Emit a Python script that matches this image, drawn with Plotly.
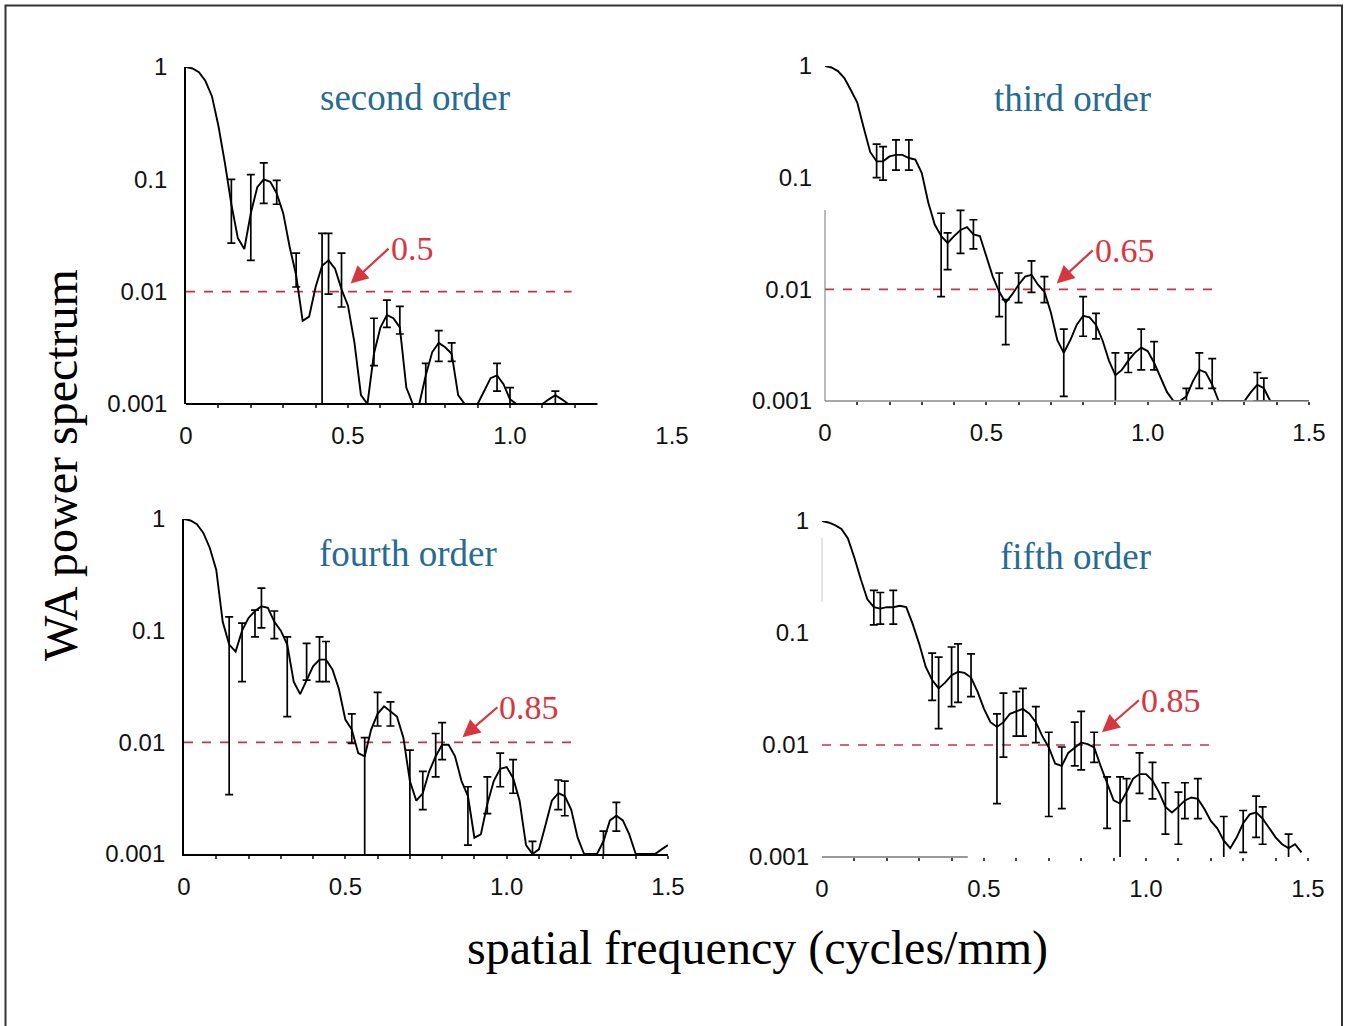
import math
import plotly.graph_objects as go

# ---------------- data ----------------
freq = [0.00, 0.02, 0.04, 0.06, 0.08, 0.10, 0.12, 0.14, 0.16, 0.18,
        0.20, 0.22, 0.24, 0.26, 0.28, 0.30, 0.32, 0.34, 0.36, 0.38,
        0.40, 0.42, 0.44, 0.46, 0.48, 0.50, 0.52, 0.54, 0.56, 0.58,
        0.60, 0.62, 0.64, 0.66, 0.68, 0.70, 0.72, 0.74, 0.76, 0.78,
        0.80, 0.82, 0.84, 0.86, 0.88, 0.90, 0.92, 0.94, 0.96, 0.98,
        1.00, 1.02, 1.04, 1.06, 1.08, 1.10, 1.12, 1.14, 1.16, 1.18,
        1.20, 1.22, 1.24, 1.26, 1.28, 1.30, 1.32, 1.34, 1.36, 1.38,
        1.40, 1.42, 1.44, 1.46, 1.48, 1.50]

second_order = [1.0, 0.97, 0.9, 0.75, 0.55, 0.30, 0.14, 0.06, 0.03, 0.024,
                0.05, 0.085, 0.1, 0.095, 0.075, 0.05, 0.025, 0.014, 0.0055, 0.006,
                0.011, 0.017, 0.019, 0.016, 0.0105, 0.0075, 0.0035, 0.0012, 0.001, 0.0028,
                0.0048, 0.0062, 0.0058, 0.0048, 0.0014, 0.001, 0.001, 0.0018, 0.0029, 0.0035,
                0.0032, 0.0028, 0.0012, 0.001, 0.001, 0.001, 0.0013, 0.0017, 0.0018, 0.0015,
                0.0011, 0.001, 0.001, 0.001, 0.001, 0.001, 0.0011, 0.0012, 0.0011, 0.001,
                0.001]
third_order = [1.0, 0.97, 0.9, 0.78, 0.61, 0.47, 0.28, 0.17, 0.14, 0.14,
               0.155, 0.16, 0.16, 0.15, 0.145, 0.11, 0.06, 0.038, 0.03, 0.026,
               0.03, 0.034, 0.036, 0.031, 0.03, 0.02, 0.013, 0.0095, 0.0076, 0.009,
               0.011, 0.013, 0.0135, 0.011, 0.0095, 0.0062, 0.0035, 0.0027, 0.0035, 0.0048,
               0.0058, 0.0056, 0.0048, 0.0035, 0.0023, 0.0017, 0.0019, 0.0023, 0.0027, 0.003,
               0.0028, 0.0022, 0.0016, 0.0012, 0.001, 0.001, 0.0011, 0.0015, 0.0019, 0.0018,
               0.0014, 0.001, 0.001, 0.001, 0.001, 0.001, 0.0012, 0.0014, 0.0013, 0.001,
               0.001, 0.001, 0.001, 0.001, 0.001, 0.001]
fourth_order = [1.0, 0.97, 0.9, 0.75, 0.55, 0.35, 0.12, 0.075, 0.065, 0.1,
                0.13, 0.15, 0.165, 0.16, 0.12, 0.1, 0.075, 0.035, 0.027, 0.036,
                0.048, 0.055, 0.055, 0.045, 0.03, 0.016, 0.013, 0.008, 0.0075, 0.013,
                0.018, 0.021, 0.019, 0.017, 0.011, 0.0045, 0.003, 0.0035, 0.0055, 0.0075,
                0.0095, 0.0095, 0.0075, 0.0045, 0.0033, 0.0014, 0.0015, 0.0028, 0.0045, 0.0058,
                0.006, 0.0048, 0.003, 0.0012, 0.001, 0.0011, 0.0018, 0.003, 0.0035, 0.0033,
                0.0025, 0.0014, 0.001, 0.001, 0.001, 0.0013, 0.002, 0.0022, 0.002, 0.0015,
                0.001, 0.001, 0.001, 0.001, 0.0011, 0.0012]
fifth_order = [1.0, 0.97, 0.92, 0.85, 0.7, 0.47, 0.3, 0.2, 0.17, 0.165,
               0.17, 0.17, 0.175, 0.17, 0.12, 0.08, 0.05, 0.038, 0.032, 0.036,
               0.042, 0.045, 0.044, 0.04, 0.03, 0.021, 0.016, 0.0145, 0.016, 0.019,
               0.02, 0.021, 0.019, 0.016, 0.012, 0.0095, 0.0068, 0.0065, 0.0085, 0.0095,
               0.0105, 0.0102, 0.0095, 0.0065, 0.0045, 0.0032, 0.003, 0.0038, 0.005, 0.0055,
               0.0055, 0.0048, 0.0038, 0.0028, 0.0025, 0.0028, 0.0032, 0.0034, 0.0033, 0.0027,
               0.0021, 0.0018, 0.0014, 0.0012, 0.0015, 0.002, 0.0024, 0.0025, 0.0022, 0.0018,
               0.0015, 0.0013, 0.0012, 0.0013, 0.0011]

# error bars: position, upper value, lower value
second_err_x = [0.14, 0.20, 0.24, 0.28, 0.34, 0.42, 0.44, 0.48, 0.58, 0.62, 0.66, 0.74, 0.78, 0.82, 0.96, 1.00, 1.14]
second_err_hi = [0.10, 0.11, 0.14, 0.098, 0.022, 0.033, 0.033, 0.022, 0.0058, 0.0084, 0.0074, 0.0023, 0.0045, 0.0035, 0.0023, 0.0014, 0.0013]
second_err_lo = [0.027, 0.019, 0.061, 0.060, 0.011, 0.0005, 0.0095, 0.0073, 0.0022, 0.0048, 0.0042, 0.0005, 0.0024, 0.0024, 0.0013, 0.0009, 0.0009]

third_err_x = [0.16, 0.18, 0.22, 0.26, 0.36, 0.38, 0.42, 0.46, 0.54, 0.56, 0.60, 0.64, 0.68, 0.74, 0.80, 0.84, 0.90, 0.94, 0.98, 1.02, 1.12, 1.16, 1.20, 1.34, 1.36]
third_err_hi = [0.2, 0.19, 0.218, 0.218, 0.048, 0.032, 0.051, 0.042, 0.014, 0.0081, 0.014, 0.018, 0.013, 0.0044, 0.0086, 0.0061, 0.0027, 0.0027, 0.0044, 0.0034, 0.0013, 0.0027, 0.0024, 0.0018, 0.0016]
third_err_lo = [0.1, 0.095, 0.117, 0.117, 0.0086, 0.015, 0.021, 0.023, 0.0057, 0.0032, 0.0076, 0.0094, 0.0076, 0.0011, 0.0038, 0.0036, 0.0005, 0.0018, 0.0019, 0.0019, 0.0008, 0.0013, 0.0013, 0.001, 0.001]

fourth_err_x = [0.14, 0.18, 0.22, 0.24, 0.28, 0.32, 0.38, 0.42, 0.44, 0.52, 0.56, 0.60, 0.64, 0.70, 0.74, 0.78, 0.80, 0.88, 0.94, 0.98, 1.02, 1.08, 1.16, 1.18, 1.30, 1.34]
fourth_err_hi = [0.133, 0.117, 0.153, 0.24, 0.15, 0.088, 0.077, 0.088, 0.08, 0.018, 0.011, 0.028, 0.023, 0.0085, 0.0055, 0.012, 0.015, 0.004, 0.0049, 0.008, 0.007, 0.0013, 0.0046, 0.0045, 0.0016, 0.0029]
fourth_err_lo = [0.0034, 0.035, 0.088, 0.106, 0.085, 0.017, 0.036, 0.035, 0.035, 0.0098, 0.0006, 0.014, 0.014, 0.0009, 0.0025, 0.0049, 0.007, 0.0012, 0.0023, 0.004, 0.0035, 0.0008, 0.0025, 0.0022, 0.0009, 0.0016]

fifth_err_x = [0.16, 0.18, 0.22, 0.34, 0.36, 0.40, 0.42, 0.46, 0.54, 0.56, 0.60, 0.62, 0.66, 0.70, 0.74, 0.78, 0.80, 0.84, 0.88, 0.92, 0.94, 0.98, 1.02, 1.06, 1.10, 1.12, 1.16, 1.24, 1.30, 1.34, 1.36, 1.44]
fifth_err_hi = [0.24, 0.23, 0.24, 0.066, 0.061, 0.075, 0.08, 0.065, 0.019, 0.029, 0.03, 0.032, 0.022, 0.013, 0.0096, 0.016, 0.02, 0.013, 0.0052, 0.0052, 0.005, 0.0085, 0.007, 0.0046, 0.0038, 0.0046, 0.005, 0.0023, 0.0026, 0.0035, 0.0028, 0.0016]
fifth_err_lo = [0.118, 0.12, 0.12, 0.025, 0.014, 0.022, 0.024, 0.027, 0.003, 0.0078, 0.012, 0.012, 0.0105, 0.0023, 0.0027, 0.0065, 0.006, 0.007, 0.0018, 0.0009, 0.0021, 0.0037, 0.0033, 0.0016, 0.0013, 0.0022, 0.0022, 0.0008, 0.0011, 0.0015, 0.0013, 0.0009]

panel_titles = ["second order", "third order", "fourth order", "fifth order"]
threshold = 0.01
threshold_end = [1.19, 1.20, 1.20, 1.21]
cutoff_labels = ["0.5", "0.65", "0.85", "0.85"]
cutoff_x = [0.508, 0.718, 0.863, 0.864]
cutoff_y = [0.0118, 0.0113, 0.0111, 0.013]

y_tickvals = [0.001, 0.01, 0.1, 1]
y_ticktext = ["0.001", "0.01", "0.1", "1"]
x_tickvals = [0, 0.5, 1.0, 1.5]
x_ticktext = ["0", "0.5", "1.0", "1.5"]
x_minor_ticks = [0.1, 0.2, 0.3, 0.4, 0.5, 0.6, 0.7, 0.8, 0.9, 1.0, 1.1, 1.2, 1.3, 1.4, 1.5]
x_axis_end = [1.27, 1.5, 1.5, 1.5]

# ---------------- layout helpers ----------------
W, H = 1346, 1026
# pixel boxes: (x_left, x_right, y_top(=1), y_bottom(=0.001))
boxes = [(186, 672, 67, 404), (825, 1309, 66, 401), (184, 668, 519, 854), (822, 1308, 521, 857)]
title_pos = [(415, 97), (1072, 99), (408, 553), (1075, 556)]
arrow_off = [(38, -35), (36, -33), (35, -30), (37, -32)]

RED = "#d8363e"
DASH = "#c2334d"
BLUE = "#266b92"
SANS = "Liberation Sans, Arial, sans-serif"
SERIF = "Liberation Serif, Times New Roman, serif"

series = [second_order, third_order, fourth_order, fifth_order]
errs = [(second_err_x, second_err_hi, second_err_lo),
        (third_err_x, third_err_hi, third_err_lo),
        (fourth_err_x, fourth_err_hi, fourth_err_lo),
        (fifth_err_x, fifth_err_hi, fifth_err_lo)]

fig = go.Figure()
layout = dict(width=W, height=H, autosize=False, margin=dict(l=0, r=0, t=0, b=0, pad=0),
              paper_bgcolor="white", plot_bgcolor="white", showlegend=False)
annotations = []
shapes = []

for k in range(4):
    n = "" if k == 0 else str(k + 1)
    xa, ya = "x" + n, "y" + n
    xl, xr, yt, yb = boxes[k]
    ys = series[k]
    xs = freq[:len(ys)]
    # threshold dashed line
    fig.add_trace(go.Scatter(x=[0, threshold_end[k]], y=[threshold, threshold], mode="lines",
                             line=dict(color=DASH, width=1.6, dash="dash"),
                             xaxis=xa, yaxis=ya, hoverinfo="skip"))
    # curve
    fig.add_trace(go.Scatter(x=xs, y=ys, mode="lines", line=dict(color="black", width=1.9),
                             xaxis=xa, yaxis=ya, hoverinfo="skip"))
    # error bars
    ex, ehi, elo = errs[k]
    ecy = [ys[int(round(v / 0.02))] for v in ex]
    fig.add_trace(go.Scatter(x=ex, y=ecy, mode="markers",
                             marker=dict(size=1, color="rgba(0,0,0,0)"),
                             error_y=dict(type="data", symmetric=False,
                                          array=[h - c for h, c in zip(ehi, ecy)],
                                          arrayminus=[c - l for l, c in zip(elo, ecy)],
                                          color="black", thickness=1.7, width=4),
                             xaxis=xa, yaxis=ya, hoverinfo="skip"))

    yline = k in (0, 2)
    xline = k == 2
    minor_vals = [v for v in x_minor_ticks if v <= x_axis_end[k] + 1e-9]
    layout["xaxis" + n] = dict(domain=[xl / W, xr / W], range=[0, 1.5], anchor=ya,
                               tickvals=x_tickvals, ticktext=x_ticktext,
                               showgrid=False, zeroline=False, automargin=False,
                               showline=xline, linecolor="black", linewidth=1.8,
                               ticks="outside", ticklen=2, tickwidth=0, tickcolor="rgba(0,0,0,0)",
                               minor=dict(tickvals=minor_vals, ticks="outside", ticklen=3,
                                          tickwidth=2, tickcolor="#444", showgrid=False),
                               ticklabelstandoff=8,
                               tickfont=dict(family=SANS, size=24, color="#111"))
    layout["yaxis" + n] = dict(domain=[1 - yb / H, 1 - yt / H], type="log", range=[-3, 0],
                               anchor=xa, tickvals=y_tickvals, ticktext=y_ticktext,
                               showgrid=False, zeroline=False, automargin=False,
                               showline=yline, linecolor="black", linewidth=1.8,
                               ticks="", ticklabelstandoff=12,
                               tickfont=dict(family=SANS, size=24, color="#111"))

    # panel title
    tx, ty = title_pos[k]
    annotations.append(dict(text=panel_titles[k], x=tx / W, y=1 - ty / H, xref="paper", yref="paper",
                            xanchor="center", yanchor="middle",
                            showarrow=False, font=dict(family=SERIF, size=37, color=BLUE)))
    # arrow + label
    ax, ay = arrow_off[k]
    annotations.append(dict(text=cutoff_labels[k], x=cutoff_x[k], y=math.log10(cutoff_y[k]),
                            xref=xa, yref=ya, showarrow=True, ax=ax, ay=ay,
                            xanchor="left", yanchor="middle", arrowhead=2, arrowsize=1.6,
                            arrowwidth=2.2, arrowcolor=RED, standoff=0, startstandoff=0,
                            font=dict(family=SERIF, size=34, color=RED)))

# custom axis lines
shapes.append(dict(type="line", xref="x", yref="y domain", x0=0, x1=x_axis_end[0], y0=0, y1=0,
                   line=dict(color="black", width=1.8)))
shapes.append(dict(type="line", xref="x2", yref="y2 domain", x0=0, x1=1.5, y0=0, y1=0,
                   line=dict(color="#8a8a8a", width=1.5)))
shapes.append(dict(type="line", xref="x2 domain", yref="y2 domain", x0=0, x1=0, y0=0, y1=0.57,
                   line=dict(color="#8a8a8a", width=1.2)))
shapes.append(dict(type="line", xref="x4", yref="y4 domain", x0=0, x1=0.45, y0=0, y1=0,
                   line=dict(color="#777", width=1.6)))
shapes.append(dict(type="line", xref="x4 domain", yref="y4 domain", x0=0, x1=0, y0=0.76, y1=0.95,
                   line=dict(color="#c8c8c8", width=1)))
# outer frame
shapes.append(dict(type="rect", xref="paper", yref="paper", x0=5.5 / W, x1=1342 / W, y0=-0.02, y1=1 - 5.5 / H,
                   line=dict(color="#333", width=2)))

# axis titles
annotations.append(dict(text="WA power spectrum", x=60 / W, y=1 - 465 / H, xref="paper", yref="paper",
                        xanchor="center", yanchor="middle",
                        showarrow=False, textangle=-90, font=dict(family=SERIF, size=48, color="black")))
annotations.append(dict(text="spatial frequency (cycles/mm)", x=757 / W, y=1 - 948 / H, xref="paper",
                        yref="paper", xanchor="center", yanchor="middle",
                        showarrow=False, font=dict(family=SERIF, size=48, color="black")))

layout["annotations"] = annotations
layout["shapes"] = shapes
fig.update_layout(**layout)
fig.write_html("out.html", config={"displayModeBar": False},
               post_script="document.body.style.margin='0';document.body.style.overflow='hidden';")
